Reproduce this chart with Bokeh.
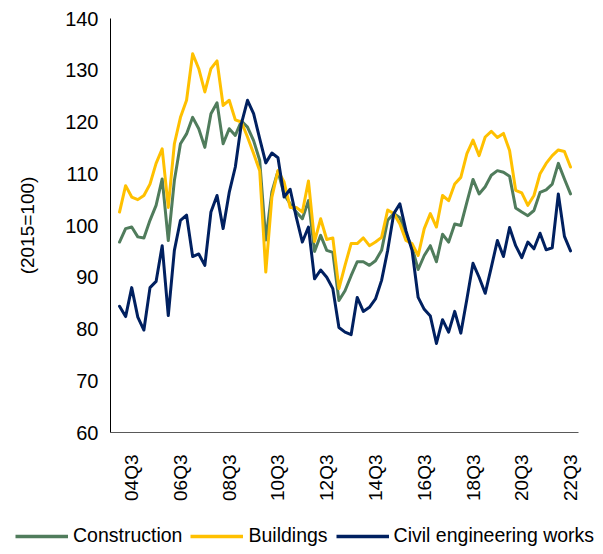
import math
from bokeh.plotting import figure
from bokeh.models import Legend, LegendItem, Range1d, FixedTicker, ColumnDataSource
from bokeh.embed import file_html
from bokeh.resources import INLINE

# quarters from 2004Q1 to 2022Q3
years = list(range(2004, 2023))
quarters = [f"{y % 100:02d}Q{q}" for y in years for q in (1, 2, 3, 4)][:75]

tick_labels = ["04Q3", "06Q3", "08Q3", "10Q3", "12Q3", "14Q3", "16Q3", "18Q3", "20Q3", "22Q3"]

construction = [96.8, 99.4, 99.7, 97.8, 97.6, 101.0, 103.9, 109.0, 97.1, 108.7,
                115.8, 117.7, 120.9, 118.7, 115.1, 121.6, 123.7, 115.8, 118.7, 117.4,
                120.2, 119.0, 116.4, 112.6, 97.2, 106.5, 110.5, 106.0, 104.2, 102.6,
                101.3, 104.8, 95.0, 98.1, 95.2, 94.8, 85.5, 87.4, 90.3, 93.0,
                93.0, 92.3, 93.2, 95.2, 101.0, 102.3, 101.5, 98.4, 95.8, 91.5,
                94.2, 96.1, 93.0, 98.3, 96.8, 100.3, 100.0, 104.5, 108.9, 106.1,
                107.5, 109.7, 110.6, 110.3, 109.5, 103.4, 102.6, 101.9, 102.9, 106.4,
                106.9, 108.0, 112.0, 109.0, 106.1]

buildings = [102.6, 107.7, 105.5, 105.0, 105.8, 108.0, 112.0, 114.8, 103.5, 115.8,
             120.9, 124.2, 133.2, 130.3, 125.8, 130.3, 131.8, 123.2, 124.2, 120.4,
             120.0, 117.1, 113.9, 110.6, 91.0, 105.5, 110.6, 108.4, 103.5, 103.5,
             102.6, 108.6, 96.9, 101.3, 97.3, 97.6, 87.8, 92.3, 96.5, 96.5,
             97.6, 96.1, 96.8, 97.7, 103.0, 102.3, 100.3, 97.1, 96.5, 94.2,
             99.4, 102.3, 99.7, 105.8, 104.8, 108.0, 109.3, 113.9, 116.5, 113.5,
             117.1, 118.2, 117.0, 117.8, 114.5, 106.8, 106.3, 103.9, 105.8, 110.0,
             112.0, 113.5, 114.6, 114.3, 111.3]

civil = [84.4, 82.4, 88.0, 82.3, 79.8, 88.0, 89.2, 96.1, 82.6, 95.2,
         101.0, 102.0, 94.0, 94.5, 92.3, 102.6, 105.8, 99.4, 106.4, 111.3,
         119.7, 124.2, 121.6, 116.8, 112.1, 114.0, 113.1, 105.5, 107.0, 101.6,
         96.8, 99.7, 89.7, 91.4, 90.0, 87.8, 80.3, 79.4, 78.9, 86.1,
         83.4, 84.2, 85.8, 89.4, 95.2, 102.3, 104.2, 99.0, 95.2, 86.1,
         83.8, 82.5, 77.2, 81.8, 79.4, 83.4, 79.2, 85.8, 92.7, 90.0,
         86.9, 91.9, 97.1, 94.0, 99.6, 96.1, 93.8, 96.8, 95.5, 98.5,
         95.3, 95.7, 106.1, 97.9, 95.1]

series_names = ["Construction", "Buildings", "Civil engineering works"]
series_colors = ["#507C5C", "#FFC000", "#002060"]
series_cols = ["construction", "buildings", "civil"]

FONT = "Liberation Sans"

x = list(range(len(quarters)))
src = ColumnDataSource(dict(x=x, construction=construction, buildings=buildings, civil=civil))

p = figure(width=603, height=512, output_backend="svg", toolbar_location=None,
           x_range=Range1d(-1.48, 75.31), y_range=Range1d(60, 140),
           min_border_left=110, min_border_right=25, min_border_top=18, min_border_bottom=80)
p.outline_line_color = None
p.xgrid.visible = False
p.ygrid.visible = False
p.background_fill_color = "white"
p.border_fill_color = "white"

for col, color in zip(series_cols, series_colors):
    p.line("x", col, source=src, line_color=color, line_width=3, line_join="round", line_cap="round")

# x axis
tick_pos = [quarters.index(t) for t in tick_labels]
p.xaxis.ticker = FixedTicker(ticks=tick_pos)
p.xaxis.major_label_overrides = {i: t for i, t in zip(tick_pos, tick_labels)}
p.xaxis.major_label_orientation = math.pi / 2
p.xaxis.major_tick_line_color = None
p.xaxis.minor_tick_line_color = None
p.xaxis.major_tick_out = 0
p.xaxis.major_tick_in = 0
p.xaxis.major_label_standoff = 22
p.xaxis.axis_line_color = "#595959"
p.xaxis.axis_line_width = 1
p.xaxis.major_label_text_font = FONT
p.xaxis.major_label_text_font_size = "19px"
p.xaxis.major_label_text_color = "#000000"

# y axis
p.yaxis.ticker = FixedTicker(ticks=list(range(60, 141, 10)))
p.yaxis.major_tick_line_color = None
p.yaxis.minor_tick_line_color = None
p.yaxis.major_tick_out = 0
p.yaxis.major_tick_in = 0
p.yaxis.major_label_standoff = 12
p.yaxis.axis_line_color = "#000000"
p.yaxis.axis_line_width = 1
p.yaxis.major_label_text_font = FONT
p.yaxis.major_label_text_font_size = "20px"
p.yaxis.major_label_text_color = "#000000"
p.yaxis.axis_label = "(2015=100)"
p.yaxis.axis_label_text_font = FONT
p.yaxis.axis_label_text_font_size = "19px"
p.yaxis.axis_label_text_font_style = "normal"
p.yaxis.axis_label_text_color = "#000000"
p.yaxis.axis_label_standoff = 24

# legend strip below the chart (series drawn out of view, only legend shows)
leg = figure(width=603, height=42, output_backend="svg", toolbar_location=None,
             x_range=Range1d(0, 1), y_range=Range1d(0, 1),
             x_axis_location=None, y_axis_location=None,
             min_border=0, min_border_left=0, min_border_right=0,
             min_border_top=0, min_border_bottom=0)
leg.outline_line_color = None
leg.xgrid.visible = False
leg.ygrid.visible = False
leg_renderers = [leg.line("x", col, source=src, line_color=c, line_width=3.5)
                 for col, c in zip(series_cols, series_colors)]

legend = Legend(items=[LegendItem(label=n, renderers=[r]) for n, r in zip(series_names, leg_renderers)],
                orientation="horizontal", location=(15, 7),
                label_text_font=FONT, label_text_font_size="19.5px", label_text_color="#000000",
                glyph_width=53, glyph_height=20, label_height=20, label_standoff=5, spacing=8,
                padding=0, margin=0, border_line_color=None, background_fill_alpha=0)
leg.add_layout(legend, "center")

open("out.html", "w").write(file_html([p, leg], INLINE))
